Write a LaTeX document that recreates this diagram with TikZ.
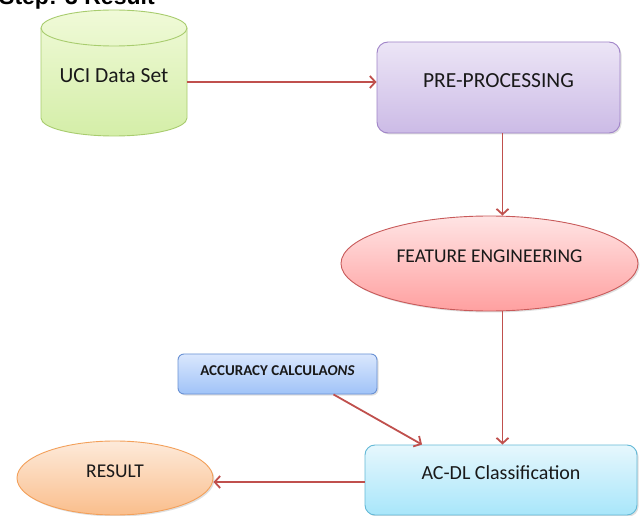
\documentclass[tikz,border=0pt]{standalone}
\usepackage{fontspec}
\setmainfont{Carlito}
\newfontfamily\arialfont{Liberation Sans}
\usetikzlibrary{arrows.meta,shadows,calc,shapes.geometric}
\definecolor{arrowred}{RGB}{192,80,77}
\definecolor{cylTop}{RGB}{240,250,216}
\definecolor{cylBot}{RGB}{212,238,168}
\definecolor{cylLine}{RGB}{168,204,110}
\definecolor{ppTop}{RGB}{236,229,246}
\definecolor{ppBot}{RGB}{204,187,230}
\definecolor{ppLine}{RGB}{160,132,200}
\definecolor{feTop}{RGB}{255,228,228}
\definecolor{feBot}{RGB}{255,160,160}
\definecolor{feLine}{RGB}{200,90,90}
\definecolor{clTop}{RGB}{230,247,253}
\definecolor{clBot}{RGB}{168,230,250}
\definecolor{clLine}{RGB}{100,185,215}
\definecolor{acTop}{RGB}{218,231,253}
\definecolor{acBot}{RGB}{160,195,248}
\definecolor{acLine}{RGB}{105,145,212}
\definecolor{reTop}{RGB}{253,234,218}
\definecolor{reBot}{RGB}{250,190,140}
\definecolor{reLine}{RGB}{243,160,90}
\begin{document}
\begin{tikzpicture}[x=1pt,y=-1pt,
  flow/.style={draw=arrowred, line width=1.8pt, -{Straight Barb[length=5.5pt,width=12pt]}},
  soft/.style={drop shadow={shadow xshift=1.5pt, shadow yshift=-1.5pt, opacity=0.25}},
  boxstyle/.style={rectangle, rounded corners=11pt, line width=0.9pt, soft, inner sep=0pt},
  ellstyle/.style={ellipse, line width=0.9pt, soft, inner sep=0pt},
  lbl/.style={font=\fontsize{#1}{#1}\selectfont, text=black!90, yshift=7pt}
]
\useasboundingbox (0,0) rectangle (641,516);
\fill[white] (0,0) rectangle (641,516);

% header (clipped at the top edge)
\node[anchor=base west, inner sep=0pt, font=\arialfont\bfseries\fontsize{23}{23}\selectfont] (head) at (-1,4.5) {Step: 3 Result};

% cylinder
\shade[top color=cylTop, bottom color=cylBot, draw=cylLine, line width=0.9pt]
  (41,28) -- (41,118) arc[start angle=180, end angle=0, x radius=73, y radius=18]
  -- (187,28) arc[start angle=0, end angle=-180, x radius=73, y radius=18] -- cycle;
\draw[cylLine, line width=0.9pt] (41,28) arc[start angle=180, end angle=0, x radius=73, y radius=18];
\node[minimum width=146pt, minimum height=126pt, inner sep=0pt, font=\fontsize{21.5}{21.5}\selectfont, text=black!90] (uci) at (114,76) {UCI Data Set};

% boxes
\node[boxstyle, top color=ppTop, bottom color=ppBot, draw=ppLine, minimum width=243pt, minimum height=91pt,
  label={[name=pptext, lbl=21.5]center:PRE-PROCESSING}] (pp) at (498.5,87.5) {};
\node[ellstyle, top color=feTop, bottom color=feBot, draw=feLine, minimum width=297pt, minimum height=95pt,
  label={[name=fetext, lbl=19.5]center:FEATURE ENGINEERING}] (fe) at (489.5,263.5) {};
\node[boxstyle, rounded corners=10pt, top color=clTop, bottom color=clBot, draw=clLine, minimum width=272pt, minimum height=70pt,
  label={[name=cltext, lbl=20]center:AC-DL Classification}] (cls) at (501,480) {};
\node[boxstyle, rounded corners=6pt, top color=acTop, bottom color=acBot, draw=acLine, minimum width=199pt, minimum height=40pt,
  label={[name=actext, lbl=15, yshift=-4pt]center:\bfseries ACCURACY CALCULA\textit{ONS}}] (acc) at (277.5,374) {};
\node[ellstyle, top color=reTop, bottom color=reBot, draw=reLine, minimum width=196pt, minimum height=74pt,
  label={[name=retext, lbl=19.5]center:RESULT}] (res) at (115,478) {};

% connectors
\draw[flow] ([yshift=-6pt]uci.east) -- ([yshift=-6pt]uci.east -| pp.west);
\draw[flow] ([xshift=4pt]pp.south) -- ([xshift=4pt]pp.south |- fe.north);
\draw[flow] ([xshift=4pt]pp.south |- fe.south) -- ([xshift=4pt]pp.south |- cls.north);
\draw[flow] ([xshift=56pt]acc.south) -- ([xshift=-79pt]cls.north);
\draw[flow] ([yshift=-2pt]cls.west) -- ([yshift=-2pt]cls.west -| res.east);
\end{tikzpicture}
\end{document}
